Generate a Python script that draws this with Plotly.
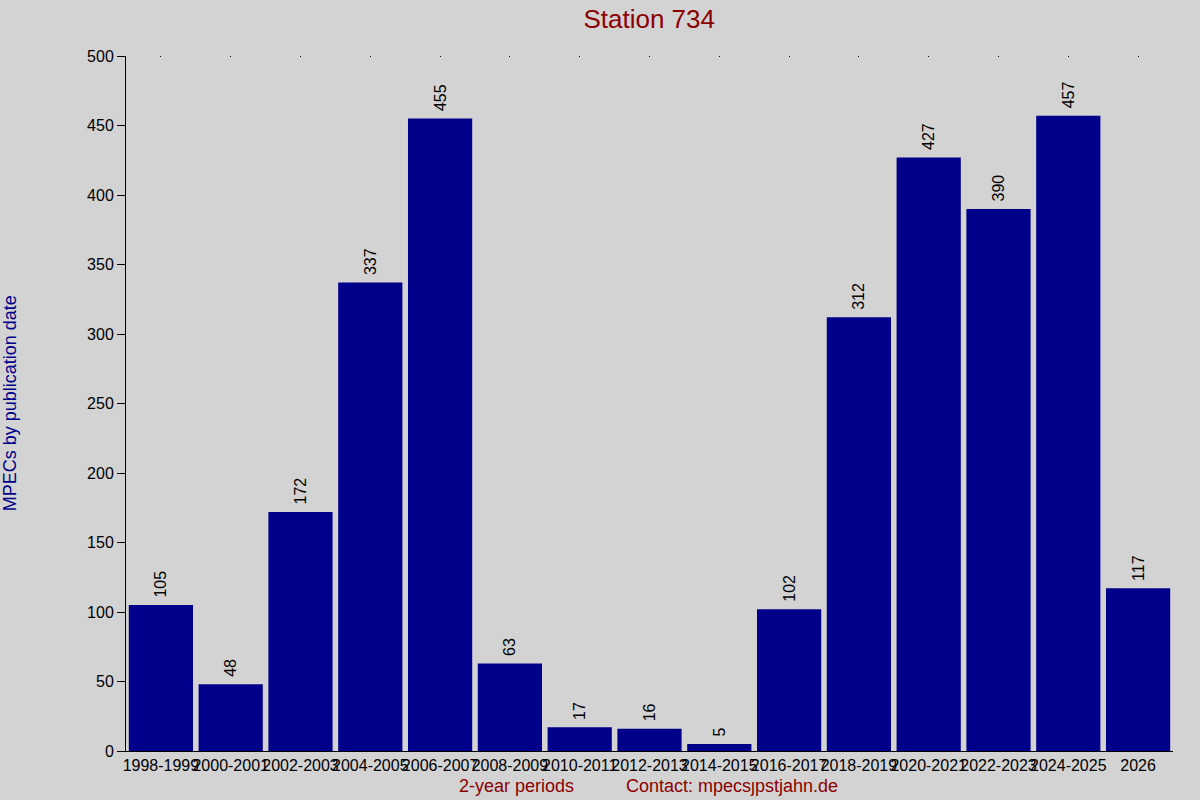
import plotly.graph_objects as go

# Data
periods = ['1998-1999', '2000-2001', '2002-2003', '2004-2005', '2006-2007',
           '2008-2009', '2010-2011', '2012-2013', '2014-2015', '2016-2017',
           '2018-2019', '2020-2021', '2022-2023', '2024-2025', '2026']
mpecs = [105, 48, 172, 337, 455, 63, 17, 16, 5, 102, 312, 427, 390, 457, 117]

font_name = 'Liberation Sans, Arial, sans-serif'

fig = go.Figure()

fig.add_trace(go.Bar(
    x=periods,
    y=mpecs,
    marker=dict(color='#00008B', line=dict(width=0)),
    text=[' ' + str(v) for v in mpecs],   # leading space = small gap above the bar
    textposition='outside',
    textangle=-90,
    constraintext='none',
    cliponaxis=False,
    textfont=dict(family=font_name, size=16, color='black'),
    showlegend=False,
))

# tiny tick dots along the top edge
fig.add_trace(go.Scatter(x=[0], y=[0], xaxis='x2', mode='markers',
                         marker=dict(opacity=0), showlegend=False, hoverinfo='skip'))

fig.update_layout(
    width=1200, height=800,
    paper_bgcolor='#D3D3D3',
    plot_bgcolor='#D3D3D3',
    font=dict(family=font_name, size=16, color='black'),
    margin=dict(l=126, r=27, t=56, b=49),
    bargap=0.08,
    title=dict(text='Station 734', x=0.541, xanchor='center', y=0.977, yanchor='middle',
               font=dict(family=font_name, size=26, color='#8B0000')),
    xaxis=dict(
        showline=True, linecolor='black', linewidth=1,
        ticks='', showgrid=False, zeroline=False, tickangle=0,
        tickfont=dict(size=16, color='black'),
    ),
    xaxis2=dict(
        overlaying='x', side='top', range=[-0.5, len(periods) - 0.5],
        tickvals=list(range(len(periods))), ticks='inside', ticklen=1,
        tickcolor='black', showticklabels=False, showline=False,
        showgrid=False, zeroline=False,
    ),
    yaxis=dict(
        range=[0, 500], dtick=50,
        showline=True, linecolor='black', linewidth=1,
        ticks='outside', ticklen=8, tickcolor='black',
        showgrid=False, zeroline=False,
        tickfont=dict(size=16, color='black'),
    ),
    annotations=[
        dict(text='MPECs by publication date', xref='paper', yref='paper',
             x=-0.111, y=0.5, xanchor='center', yanchor='middle', textangle=-90,
             showarrow=False, font=dict(size=18, color='#00008B')),
        dict(text='2-year periods', xref='paper', yref='paper',
             x=0.373, y=-0.05, xanchor='center', yanchor='middle',
             showarrow=False, font=dict(size=18, color='#8B0000')),
        dict(text='Contact: mpecs\u0237pstjahn.de', xref='paper', yref='paper',
             x=0.579, y=-0.05, xanchor='center', yanchor='middle',
             showarrow=False, font=dict(size=18, color='#8B0000')),
    ],
)

fig.write_html("out.html", config={'displayModeBar': False},
               post_script="document.body.style.margin='0';")
